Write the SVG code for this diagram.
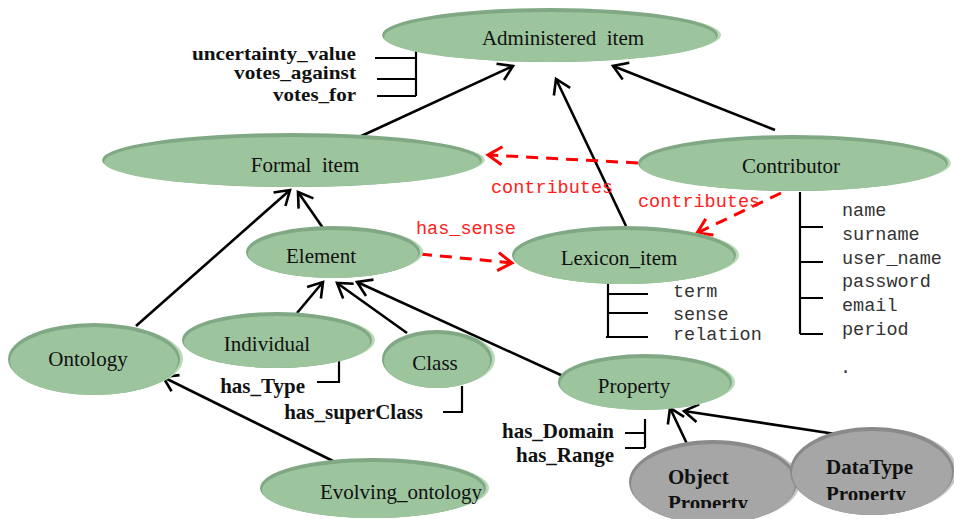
<svg xmlns="http://www.w3.org/2000/svg" width="954" height="519" viewBox="0 0 954 519">
  <style>
    .hl { fill: #b9dab6; }
    .rim { fill: #80a884; }
    .face { fill: #9cc59e; }
    .ghl { fill: #c4c4c4; }
    .grim { fill: #8a8a8a; }
    .gface { fill: #a6a6a6; }
    .lbl { font-family: "Liberation Serif", "Times New Roman", serif; font-size: 21px; fill: #111; text-anchor: middle; white-space: pre; }
    .bold { font-family: "Liberation Serif", "Times New Roman", serif; font-size: 21px; font-weight: bold; fill: #111; }
    .attr { font-size: 19px; }
    .mono { font-family: "Liberation Mono", "Courier New", monospace; font-size: 18.5px; fill: #333; }
    .red { fill: #ff2020; }
    .edge { fill: none; stroke: #000; stroke-width: 2.6; }
    .dash { fill: none; stroke: #ff0000; stroke-width: 3; stroke-dasharray: 12 8; }
    .bracket { fill: none; stroke: #000; stroke-width: 2.2; }
  </style>
  <defs>
    <marker id="arrow" viewBox="-17 -11 20 22" refX="0" refY="0" markerWidth="20" markerHeight="22" markerUnits="userSpaceOnUse" orient="auto" overflow="visible">
      <path d="M-14,-9 L0,0 L-14,9" fill="none" stroke="#000" stroke-width="2.6"/>
    </marker>
    <marker id="arrowRed" viewBox="-17 -11 20 22" refX="0" refY="0" markerWidth="20" markerHeight="22" markerUnits="userSpaceOnUse" orient="auto" overflow="visible">
      <path d="M-14,-9 L0,0 L-14,9" fill="none" stroke="#ff0000" stroke-width="3"/>
    </marker>
    <clipPath id="clipObj"><rect x="600" y="430" width="220" height="78"/></clipPath>
    <clipPath id="clipDT"><rect x="780" y="420" width="174" height="80"/></clipPath>
  </defs>
  <rect width="954" height="519" fill="#fff"/>

  <!-- generalisation and attribute links -->
  <g id="connectors">
    <line class="edge" x1="357" y1="138" x2="513" y2="66" marker-end="url(#arrow)"/>
    <line class="edge" x1="626" y1="226" x2="556" y2="79" marker-end="url(#arrow)"/>
    <line class="edge" x1="775" y1="130" x2="613" y2="66" marker-end="url(#arrow)"/>
    <line class="edge" x1="136" y1="326" x2="290" y2="190" marker-end="url(#arrow)"/>
    <line class="edge" x1="323" y1="228" x2="298" y2="192" marker-end="url(#arrow)"/>
    <line class="edge" x1="297" y1="313" x2="323" y2="282" marker-end="url(#arrow)"/>
    <line class="edge" x1="407" y1="333" x2="337" y2="283" marker-end="url(#arrow)"/>
    <line class="edge" x1="563" y1="376" x2="357" y2="282" marker-end="url(#arrow)"/>
    <line class="edge" x1="333" y1="461" x2="163" y2="377" marker-end="url(#arrow)"/>
    <line class="edge" x1="688" y1="446" x2="670" y2="408" marker-end="url(#arrow)"/>
    <line class="edge" x1="842" y1="435" x2="684" y2="411" marker-end="url(#arrow)"/>

    <line class="dash" x1="638" y1="163" x2="488" y2="155" marker-end="url(#arrowRed)"/>
    <line class="dash" x1="781" y1="193" x2="697" y2="233" marker-end="url(#arrowRed)"/>
    <line class="dash" x1="420" y1="254" x2="512" y2="263" marker-end="url(#arrowRed)"/>

    <!-- attribute brackets -->
    <path class="bracket" d="M375,58 H416 M377,79 H416 M377,96 H416 M416,49 V96"/>
    <path class="bracket" d="M317,382 H339 V357"/>
    <path class="bracket" d="M443,412 H462 V386"/>
    <path class="bracket" d="M625,433 H645 M625,448 H645 M645,419 V448"/>
    <path class="bracket" d="M608,283 V337 M608,294 H648 M608,313 H648 M606,337 H648"/>
    <path class="bracket" d="M800,192 V334 M800,227 H823 M800,262 H823 M800,298 H823 M800,334 H823"/>
  </g>

  <g id="edge-labels">
    <text class="mono red" x="491" y="193">contributes</text>
    <text class="mono red" x="638" y="207">contributes</text>
    <text class="mono red" x="416" y="234">has_sense</text>
  </g>

  <g id="administered-item">
    <ellipse class="hl" cx="553" cy="35" rx="168" ry="26"/>
    <ellipse class="rim" cx="550" cy="35" rx="168" ry="27"/>
    <ellipse class="face" cx="550" cy="37" rx="166" ry="25"/>
    <text class="lbl" x="563" y="45">Administered  item</text>
    <g class="bold attr" text-anchor="end">
      <text x="356" y="60" textLength="164" lengthAdjust="spacingAndGlyphs">uncertainty_value</text>
      <text x="356" y="79" textLength="122" lengthAdjust="spacingAndGlyphs">votes_against</text>
      <text x="356" y="101" textLength="83" lengthAdjust="spacingAndGlyphs">votes_for</text>
    </g>
  </g>

  <g id="formal-item">
    <ellipse class="hl" cx="295" cy="160" rx="190" ry="25"/>
    <ellipse class="rim" cx="292" cy="160" rx="190" ry="27"/>
    <ellipse class="face" cx="292" cy="162" rx="188" ry="25"/>
    <text class="lbl" x="305" y="172">Formal  item</text>
  </g>

  <g id="contributor">
    <ellipse class="hl" cx="796" cy="163" rx="155" ry="27"/>
    <ellipse class="rim" cx="793" cy="163" rx="155" ry="28"/>
    <ellipse class="face" cx="793" cy="165" rx="153" ry="26"/>
    <text class="lbl" x="791" y="173">Contributor</text>
    <g class="mono">
      <text x="842" y="216">name</text>
      <text x="842" y="240">surname</text>
      <text x="842" y="264">user_name</text>
      <text x="842" y="287">password</text>
      <text x="842" y="311">email</text>
      <text x="842" y="335">period</text>
      <text x="840" y="373">.</text>
    </g>
  </g>

  <g id="element">
    <ellipse class="hl" cx="336" cy="252" rx="87" ry="25"/>
    <ellipse class="rim" cx="333" cy="252" rx="87" ry="26"/>
    <ellipse class="face" cx="333" cy="254" rx="85" ry="24"/>
    <text class="lbl" x="321" y="263">Element</text>
  </g>

  <g id="lexicon-item">
    <ellipse class="hl" cx="627" cy="255" rx="112" ry="28"/>
    <ellipse class="rim" cx="624" cy="255" rx="112" ry="29"/>
    <ellipse class="face" cx="624" cy="257" rx="110" ry="27"/>
    <text class="lbl" x="619" y="265">Lexicon_item</text>
    <g class="mono">
      <text x="673" y="297">term</text>
      <text x="673" y="320">sense</text>
      <text x="673" y="340">relation</text>
    </g>
  </g>

  <g id="individual">
    <ellipse class="hl" cx="280" cy="340" rx="95" ry="27"/>
    <ellipse class="rim" cx="277" cy="340" rx="95" ry="28"/>
    <ellipse class="face" cx="277" cy="342" rx="93" ry="26"/>
    <text class="lbl" x="267" y="351">Individual</text>
    <text class="bold" x="305" y="393" text-anchor="end">has_Type</text>
  </g>

  <g id="ontology">
    <ellipse class="hl" cx="97" cy="359" rx="86" ry="35"/>
    <ellipse class="rim" cx="94" cy="359" rx="86" ry="36"/>
    <ellipse class="face" cx="94" cy="361" rx="84" ry="34"/>
    <text class="lbl" x="88" y="366">Ontology</text>
  </g>

  <g id="class">
    <ellipse class="hl" cx="440" cy="359" rx="55" ry="28"/>
    <ellipse class="rim" cx="437" cy="359" rx="55" ry="29"/>
    <ellipse class="face" cx="437" cy="361" rx="53" ry="27"/>
    <text class="lbl" x="435" y="370">Class</text>
    <text class="bold" x="423" y="419" text-anchor="end">has_superClass</text>
  </g>

  <g id="property">
    <ellipse class="hl" cx="648" cy="382" rx="87" ry="27"/>
    <ellipse class="rim" cx="645" cy="382" rx="87" ry="28"/>
    <ellipse class="face" cx="645" cy="384" rx="85" ry="26"/>
    <text class="lbl" x="634" y="393">Property</text>
    <g class="bold" text-anchor="end">
      <text x="614" y="438">has_Domain</text>
      <text x="614" y="462">has_Range</text>
    </g>
  </g>

  <g id="evolving-ontology">
    <ellipse class="hl" cx="376" cy="488" rx="113" ry="29"/>
    <ellipse class="rim" cx="373" cy="488" rx="113" ry="30"/>
    <ellipse class="face" cx="373" cy="490" rx="111" ry="28"/>
    <text class="lbl" x="401" y="499">Evolving_ontology</text>
  </g>

  <g id="object-property">
    <ellipse class="ghl" cx="716" cy="482" rx="84" ry="41"/>
    <ellipse class="grim" cx="713" cy="482" rx="84" ry="42"/>
    <ellipse class="gface" cx="713" cy="484" rx="82" ry="40"/>
    <g class="bold" clip-path="url(#clipObj)">
      <text x="668" y="484">Object</text>
      <text x="668" y="510">Property</text>
    </g>
  </g>

  <g id="datatype-property">
    <ellipse class="ghl" cx="875" cy="471" rx="82" ry="43"/>
    <ellipse class="grim" cx="872" cy="471" rx="82" ry="44"/>
    <ellipse class="gface" cx="872" cy="473" rx="80" ry="42"/>
    <g class="bold" clip-path="url(#clipDT)">
      <text x="826" y="474">DataType</text>
      <text x="826" y="501">Property</text>
    </g>
  </g>
</svg>
